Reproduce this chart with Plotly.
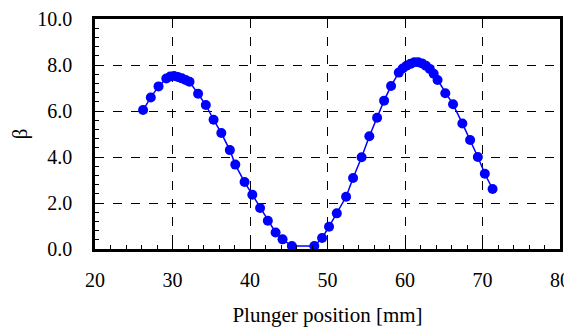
import plotly.graph_objects as go

x_pos = [26.2, 27.2, 28.2, 29.2, 29.7, 30.2, 30.7, 31.2, 31.7, 32.2, 33.3, 34.3, 35.3, 36.3, 37.4,
         38.1, 39.3, 40.3, 41.3, 42.3, 43.3, 44.2, 45.4, 48.3, 49.3, 50.2, 51.2, 52.4, 53.3,
         54.4, 55.4, 56.4, 57.3, 58.2, 59.2, 59.7, 60.2, 60.7, 61.2, 61.7, 62.2, 62.7, 63.2,
         63.7, 64.2, 65.2, 66.2, 67.4, 68.4, 69.4, 70.3, 71.3]
beta = [6.04, 6.59, 7.07, 7.41, 7.50, 7.52, 7.48, 7.42, 7.35, 7.27, 6.75, 6.26, 5.62, 5.04, 4.30,
        3.67, 2.91, 2.36, 1.78, 1.23, 0.72, 0.42, 0.13, 0.13, 0.48, 0.97, 1.55, 2.27, 3.09,
        3.99, 4.90, 5.71, 6.45, 7.09, 7.67, 7.85, 7.97, 8.05, 8.12, 8.12, 8.07, 7.97, 7.83,
        7.62, 7.35, 6.77, 6.29, 5.46, 4.74, 4.00, 3.27, 2.61]

x_ticks = [20, 30, 40, 50, 60, 70, 80]
y_ticks = [0, 2, 4, 6, 8, 10]
y_tick_labels = ["0.0", "2.0", "4.0", "6.0", "8.0", "10.0"]

tick_font = dict(family="Times New Roman", size=20, color="black")
title_font = dict(family="Times New Roman", size=21, color="black")

fig = go.Figure()
fig.add_trace(go.Scatter(
    x=x_pos, y=beta, mode="lines+markers",
    line=dict(color="#0000FF", width=1.5),
    marker=dict(color="#0000FF", size=10),
    cliponaxis=False,
))

# page body has an 8px margin, so margins are shifted accordingly
fig.update_layout(
    width=572, height=332,
    margin=dict(l=87, r=20, t=11, b=91, autoexpand=False),
    paper_bgcolor="white", plot_bgcolor="white",
    showlegend=False, font=tick_font,
    xaxis=dict(
        range=[20, 80], tickvals=x_ticks, ticktext=[str(v) for v in x_ticks],
        showline=True, linecolor="black", linewidth=2.5, mirror=True,
        ticks="inside", ticklen=5, tickcolor="black", ticklabelstandoff=11,
        minor=dict(dtick=2, ticks="inside", ticklen=4, tickcolor="black", showgrid=False),
        showgrid=True, gridcolor="black", griddash="dash", gridwidth=1,
        zeroline=False, automargin=False, tickfont=tick_font,
        title=dict(text="Plunger position [mm]", font=title_font, standoff=18),
    ),
    yaxis=dict(
        range=[0, 10], tickvals=y_ticks, ticktext=y_tick_labels,
        showline=True, linecolor="black", linewidth=2.5, mirror=True,
        ticks="inside", ticklen=5, tickcolor="black", ticklabelstandoff=16,
        minor=dict(dtick=0.4, tick0=0, ticks="inside", ticklen=4, tickcolor="black", showgrid=False),
        showgrid=True, gridcolor="black", griddash="dash", gridwidth=1,
        zeroline=False, automargin=False, tickfont=tick_font,
        title=dict(text="β", font=title_font, standoff=14),
    ),
)

fig.write_html("out.html")
